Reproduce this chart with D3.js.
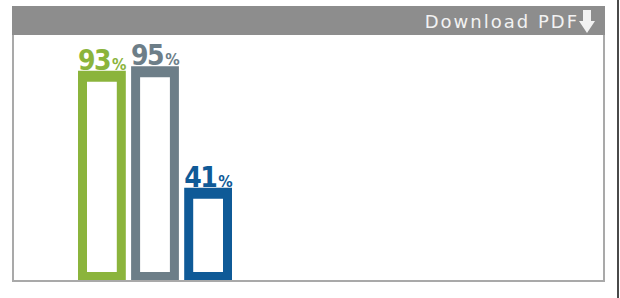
<!DOCTYPE html>
<html><head><meta charset="utf-8">
<script src="https://cdn.jsdelivr.net/npm/d3@7"></script>
<style>html,body{margin:0;padding:0;background:#fff;}svg{display:block;}</style>
</head><body>
<svg id="c" width="620" height="298"></svg>
<script>
const categories = ["A", "B", "C"];
const values = [93, 95, 41];
const labels = ["93", "95", "41"];
const colors = ["#8bb43c", "#6d7e88", "#0f5a97"];

const svg = d3.select("#c");
// outer dark line on right
svg.append("rect").attr("x", 617).attr("y", 0).attr("width", 2).attr("height", 298).attr("fill", "#4a4a4a");
// panel box
svg.append("rect").attr("x", 13).attr("y", 34).attr("width", 591).attr("height", 247)
  .attr("fill", "#fff").attr("stroke", "#a9a9a9").attr("stroke-width", 2);
// header
svg.append("rect").attr("x", 12).attr("y", 6).attr("width", 593).attr("height", 29).attr("fill", "#8d8d8d");
svg.append("text").attr("x", 579).attr("y", 28).attr("text-anchor", "end")
  .attr("font-family", "DejaVu Sans").attr("font-size", 18).attr("letter-spacing", 2)
  .attr("fill", "#f2f2f2").text("Download PDF");
svg.append("path").attr("d", "M583,10 H591 V21 H595 L587,33 L579,21 H583 Z").attr("fill", "#f2f2f2");

const x = d3.scaleBand().domain(categories).range([78, 232]).paddingInner(0.1).paddingOuter(0);
const y = d3.scaleLinear().domain([0, 100]).range([280, 55]);

const g = svg.append("g");
const bars = g.selectAll("g.bar").data(categories).join("g").attr("class", "bar");
bars.append("rect")
  .attr("x", d => x(d)).attr("y", (d, i) => y(values[i]))
  .attr("width", x.bandwidth()).attr("height", (d, i) => y(0) - y(values[i]))
  .attr("fill", (d, i) => colors[i]);
bars.append("rect")
  .attr("x", d => x(d) + 9).attr("y", (d, i) => y(values[i]) + 11)
  .attr("width", x.bandwidth() - 18).attr("height", (d, i) => y(0) - y(values[i]) - 19)
  .attr("fill", "#fff");
const t = bars.append("text")
  .attr("x", d => x(d)).attr("y", (d, i) => y(values[i]) - 1)
  .attr("font-family", "DejaVu Sans Condensed, DejaVu Sans").attr("font-weight", "bold")
  .attr("font-size", 28).attr("letter-spacing", -1.5)
  .attr("fill", (d, i) => colors[i]);
t.append("tspan").text((d, i) => labels[i]);
t.append("tspan").attr("font-size", 16).attr("letter-spacing", -1).attr("dx", 2).text("%");

// baseline
svg.append("line").attr("x1", 13).attr("x2", 604).attr("y1", 281).attr("y2", 281).attr("stroke", "#a9a9a9").attr("stroke-width", 2);
</script>
</body></html>
